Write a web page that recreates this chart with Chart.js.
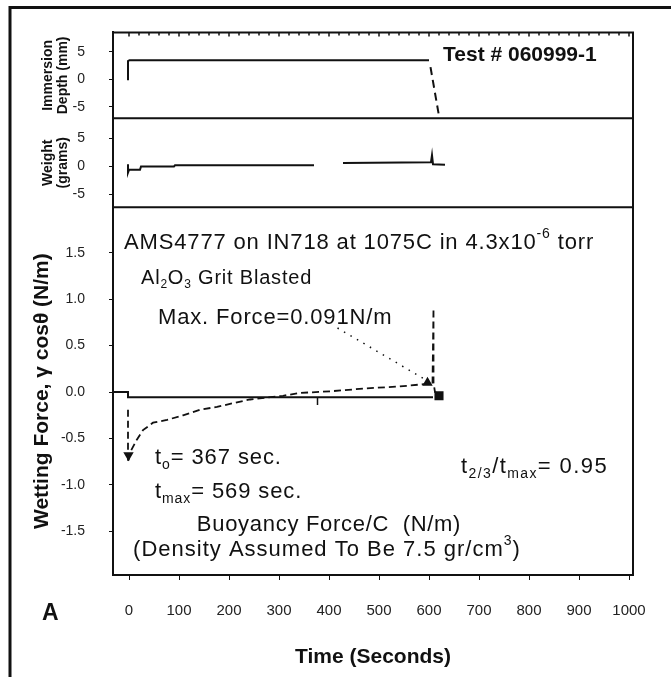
<!DOCTYPE html>
<html><head><meta charset="utf-8">
<script src="https://cdn.jsdelivr.net/npm/chart.js@4/dist/chart.umd.min.js"></script>
<style>html,body{margin:0;padding:0;background:#fff;}#wrap{width:671px;height:677px;position:relative;}</style>
</head><body><div id="wrap"><canvas id="c" width="671" height="677"></canvas></div>
<script>
// ---------- data ----------
const timeTicks = [0,100,200,300,400,500,600,700,800,900,1000];
const forceTicks = [-1.5,-1.0,-0.5,0.0,0.5,1.0,1.5];
const immersionTicks = [-5,0,5];
const weightTicks = [-5,0,5];

// top panel: immersion depth (mm)
const immersionTime = [-2,-2,1,600];
const immersionMm   = [-0.2,3.3,3.45,3.45];
const immersionDropTime = [603,621];
const immersionDropMm   = [2.2,-7.2];

// middle panel: weight (grams)
const weightTime  = [-2,-2,0,22,24,90,92,370,398,428,604,606,608,632];
const weightGrams = [0.4,-1.1,-0.6,-0.6,0.0,0.0,0.2,0.2,null,0.6,0.75,2.0,0.4,0.3];

// main panel: wetting force (N/m)
const wettingTime  = [-2,-2,2,16,28,48,76,108,142,176,208,242,308,341,407,475,541,600,607,609,609,612,625];
const wettingForce = [-0.19,-0.76,-0.65,-0.51,-0.41,-0.33,-0.30,-0.25,-0.19,-0.16,-0.12,-0.08,-0.04,-0.01,0.01,0.04,0.06,0.09,0.09,0.90,0.10,0.0,-0.03];
const baselineTime  = [-32,-2,-2,608];
const baselineForce = [0,0,-0.055,-0.055];
const t0MarkTime  = [377,377];
const t0MarkForce = [-0.055,-0.14];
const leaderTime  = [417,597];
const leaderForce = [0.69,0.12];
const maxPointTime = [597];
const maxPointForce = [0.10];
const endPointTime = [620];
const endPointForce = [-0.04];
const minPointTime = [-1];
const minPointForce = [-0.68];

// ---------- chart ----------
const FONT = '"Liberation Sans", Arial, Helvetica, sans-serif';
const pts = (xs, ys) => xs.map((x,i) => ({x, y: ys[i]}));

function richText(ctx, parts, x, y, size, weight, align, spacing) {
  const small = Math.round(size*0.62);
  const fontFor = m => `${weight} ${m===0?size:small}px ${FONT}`;
  ctx.letterSpacing = spacing + 'px';
  let total = 0;
  for (const [t,m] of parts) { ctx.font = fontFor(m); total += ctx.measureText(t).width; }
  let cx = align === 'center' ? x - total/2 : x;
  ctx.textBaseline = 'middle'; ctx.textAlign = 'left'; ctx.fillStyle = '#111';
  for (const [t,m] of parts) {
    ctx.font = fontFor(m);
    const dy = m===0 ? 0 : (m<0 ? size*0.32 : -size*0.4);
    ctx.fillText(t, cx, y+dy);
    cx += ctx.measureText(t).width;
  }
  ctx.letterSpacing = '0px';
}

const notes = [
  {parts:[['Test # 060999-1',0]], x:443, y:55, size:21, weight:'bold', sp:0},
  {parts:[['AMS4777 on IN718 at 1075C in 4.3x10',0],['-6',1],[' torr',0]], x:124, y:243, size:22, sp:0.85},
  {parts:[['Al',0],['2',-1],['O',0],['3',-1],[' Grit Blasted',0]], x:141, y:278, size:20, sp:0.8},
  {parts:[['Max. Force=0.091N/m',0]], x:158, y:318, size:22, sp:0.85},
  {parts:[['t',0],['o',-1],['= 367 sec.',0]], x:155, y:458, size:22, sp:0.9},
  {parts:[['t',0],['max',-1],['= 569 sec.',0]], x:155, y:492, size:22, sp:0.9},
  {parts:[['t',0],['2/3',-1],['/t',0],['max',-1],['= 0.95',0]], x:461, y:467, size:22, sp:1.4},
  {parts:[['Buoyancy Force/C  (N/m)',0]], x:329, y:525, size:22, align:'center', sp:0.7},
  {parts:[['(Density Assumed To Be 7.5 gr/cm',0],['3',1],[')',0]], x:327, y:550, size:22, align:'center', sp:1.0},
  {parts:[['A',0]], x:42, y:614, size:23, weight:'bold', sp:0}
];

const framePlugin = {
  id: 'frame',
  afterDraw(chart) {
    const {ctx, chartArea: a, scales} = chart;
    ctx.save();
    ctx.strokeStyle = '#111';
    // outer frame (top and left)
    ctx.lineWidth = 3;
    ctx.beginPath(); ctx.moveTo(10, 677); ctx.lineTo(10, 7.5); ctx.lineTo(671, 7.5); ctx.stroke();
    // plot box and panel dividers
    ctx.lineWidth = 2;
    ctx.beginPath();
    ctx.moveTo(a.left, a.top); ctx.lineTo(a.right, a.top); ctx.lineTo(a.right, a.bottom);
    ctx.moveTo(a.left, scales.yI.bottom); ctx.lineTo(a.right, scales.yI.bottom);
    ctx.moveTo(a.left, scales.yW.bottom); ctx.lineTo(a.right, scales.yW.bottom);
    ctx.stroke();
    // minor tick marks along the top edge
    ctx.lineWidth = 1.5;
    ctx.beginPath();
    for (let t = 0; t <= 1000; t += 20) {
      const px = scales.x.getPixelForValue(t);
      ctx.moveTo(px, a.top); ctx.lineTo(px, a.top + (t % 100 === 0 ? 4 : 3));
    }
    ctx.stroke();
    for (const n of notes) richText(ctx, n.parts, n.x, n.y, n.size, n.weight || 'normal', n.align || 'left', n.sp);
    ctx.restore();
  }
};

const yCommon = (ticksArr, fmt) => ({
  type: 'linear', position: 'left', stack: 'panels',
  afterBuildTicks: s => { s.ticks = ticksArr.map(v => ({value: v})); },
  afterFit: s => { s.width = 88; },
  grid: {drawOnChartArea: false, drawTicks: true, tickLength: 4, color: '#111'},
  border: {display: true, color: '#111', width: 2},
  ticks: {padding: 24, color: '#222', font: {size: 14, family: FONT}, callback: fmt}
});

const lineDs = (xs, ys, axis, extra) => Object.assign({
  data: pts(xs, ys), yAxisID: axis, borderColor: '#111', backgroundColor: '#111',
  borderWidth: 2, pointRadius: 0, tension: 0, fill: false, spanGaps: false
}, extra || {});

new Chart(document.getElementById('c'), {
  type: 'line',
  data: {
    datasets: [
      lineDs(immersionTime, immersionMm, 'yI'),
      lineDs(immersionDropTime, immersionDropMm, 'yI', {borderDash: [8,5]}),
      lineDs(weightTime, weightGrams, 'yW'),
      lineDs(baselineTime, baselineForce, 'yM'),
      lineDs(t0MarkTime, t0MarkForce, 'yM', {borderWidth: 1.5}),
      lineDs(wettingTime, wettingForce, 'yM', {borderDash: [7,4], borderWidth: 1.8}),
      lineDs(leaderTime, leaderForce, 'yM', {borderDash: [1.5,6], borderWidth: 1.5}),
      lineDs(maxPointTime, maxPointForce, 'yM', {showLine: false, pointRadius: 4, pointStyle: 'triangle'}),
      lineDs(endPointTime, endPointForce, 'yM', {showLine: false, pointRadius: 5, pointStyle: 'rect'}),
      lineDs(minPointTime, minPointForce, 'yM', {showLine: false, pointRadius: 4, pointStyle: 'triangle', rotation: 180})
    ]
  },
  options: {
    responsive: false, animation: false, devicePixelRatio: 1,
    layout: {padding: {left: 25, right: 38, top: 32, bottom: 0}},
    plugins: {legend: {display: false}, tooltip: {enabled: false}},
    scales: {
      x: {
        type: 'linear', position: 'bottom', min: -32, max: 1008,
        afterBuildTicks: s => { s.ticks = timeTicks.map(v => ({value: v})); },
        afterFit: s => { s.height = 102; },
        grid: {drawOnChartArea: false, drawTicks: true, tickLength: 5, color: '#111'},
        border: {display: true, color: '#111', width: 2},
        ticks: {padding: 22, color: '#222', maxRotation: 0, font: {size: 15, family: FONT}, callback: v => String(v)},
        title: {display: true, text: 'Time (Seconds)', color: '#111', font: {size: 21, weight: 'bold', family: FONT, lineHeight: 1.2}, padding: {top: 0, bottom: 7}}
      },
      yM: Object.assign(yCommon(forceTicks, v => v.toFixed(1)), {
        min: -1.97, max: 1.99, stackWeight: 368,
        title: {display: true, text: 'Wetting Force, \u03B3 cos\u03B8 (N/m)', color: '#111', font: {size: 21, weight: 'bold', family: FONT, lineHeight: 1.2}, padding: {top: 5, bottom: 0}}
      }),
      yW: Object.assign(yCommon(weightTicks, v => String(v)), {
        min: -7.3, max: 8.6, stackWeight: 89,
        title: {display: true, text: ['Weight', '(grams)'], color: '#111', font: {size: 14, weight: 'bold', family: FONT, lineHeight: 1.07}, padding: {top: 15.5, bottom: 0}}
      }),
      yI: Object.assign(yCommon(immersionTicks, v => String(v)), {
        min: -7.1, max: 8.5, stackWeight: 86,
        title: {display: true, text: ['Immersion', 'Depth (mm)'], color: '#111', font: {size: 14, weight: 'bold', family: FONT, lineHeight: 1.07}, padding: {top: 15.5, bottom: 0}}
      })
    }
  },
  plugins: [framePlugin]
});
</script>
</body></html>
